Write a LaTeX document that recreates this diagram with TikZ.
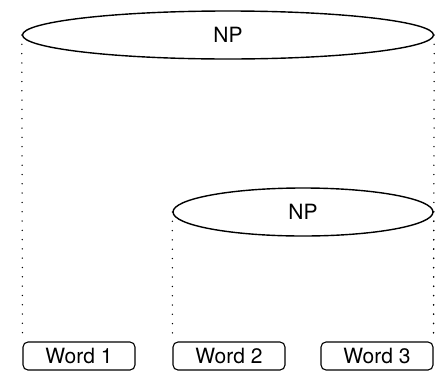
\documentclass[tikz,border=0pt]{standalone}
\usepackage{fontspec}
\setmainfont{TeX Gyre Heros}
\usetikzlibrary{shapes.geometric}
\begin{document}
\begin{tikzpicture}[x=1pt,y=-1pt,
  phrase/.style={draw, ellipse, line width=1.4pt, inner sep=0pt, font=\fontsize{21}{24}\selectfont},
  word/.style={draw, rectangle, rounded corners=5pt, line width=1.1pt, minimum width=112pt, minimum height=28pt, inner sep=0pt, font=\fontsize{21}{24}\selectfont},
  link/.style={line width=1.5pt, line cap=round, dash pattern=on 0pt off 9.3pt}]
\useasboundingbox (0,0) rectangle (438,378);
% upper phrase node and its nested phrase
\node[phrase, minimum width=411pt, minimum height=48pt] (np1) at (228,35) {NP};
\node[phrase, minimum width=260pt, minimum height=48pt] (np2) at (303,212) {NP};
% word boxes along the bottom
\node[word] (w1) at (79,356) {Word 1};
\node[word] (w2) at (229,356) {Word 2};
\node[word] (w3) at (377,356) {Word 3};
% dotted spans from each phrase to its first and last word
\draw[link] (np1.west) -- (w1.north west);
\draw[link] (np1.east) -- (w3.north east);
\draw[link] (np2.west) -- (w2.north west);
\draw[link] (np2.east) -- (w3.north east);
\end{tikzpicture}
\end{document}
